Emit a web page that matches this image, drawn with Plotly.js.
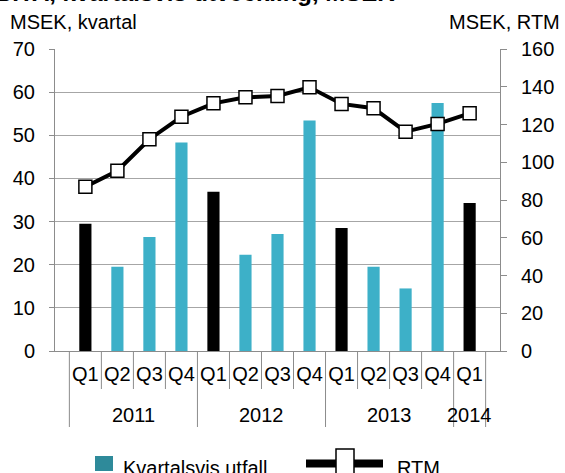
<!DOCTYPE html>
<html><head><meta charset="utf-8">
<script src="https://cdn.plot.ly/plotly-3.0.1.min.js"></script>
<style>html,body{margin:0;padding:0;background:#fff}#chart{width:565px;height:473px}</style>
</head><body><div id="chart"></div>
<script>
const years = ['2011','2011','2011','2011','2012','2012','2012','2012','2013','2013','2013','2013','2014'];
const quarters = ['Q1','Q2','Q3','Q4','Q1','Q2','Q3','Q4','Q1','Q2','Q3','Q4','Q1'];
const kvartal = [29.5,19.5,26.4,48.3,36.9,22.3,27.1,53.4,28.5,19.5,14.5,57.5,34.3];
const rtm = [87.0,95.5,112.2,124.1,131.2,134.4,135.1,139.7,130.9,128.6,116.2,120.3,125.9];
const seriesNames = ['Kvartalsvis utfall','RTM'];
const titleText = 'EBITA, kvartalsvis utveckling, MSEK';
const leftTitle = 'MSEK, kvartal';
const rightTitle = 'MSEK, RTM';

const FONT = 'Liberation Sans, Arial, sans-serif';
const FS = 20;
const TEAL = '#3db0c8';
const GRID = '#a6a6a6';
const AX = '#8c8c8c';

const cats = quarters.map((q,i)=>q+' '+years[i]);
const barColors = quarters.map(q => q==='Q1' ? '#000000' : TEAL);

// plot geometry
const L=55, R=500, T=49, B=351, W=565, H=473;
const px = x => (x-L)/(R-L);
const py = y => (B-y)/(B-T);

const shapes = [];
const annotations = [];
// category separators
for (let i=0;i<=cats.length;i++){
  const isYear = i===0 || i===cats.length || years[i]!==years[i-1];
  shapes.push({type:'line', xref:'x', yref:'paper', x0:i-0.5, x1:i-0.5,
    y0:0, y1:py(isYear?427:389), line:{color:AX,width:1}});
}
// year labels
const uniqYears = [...new Set(years)];
uniqYears.forEach(y=>{
  const idx = years.map((v,i)=>v===y?i:-1).filter(i=>i>=0);
  const c = (idx[0]+idx[idx.length-1])/2;
  annotations.push({text:y, x:c, xref:'x', y:py(415), yref:'paper', showarrow:false,
    xanchor:'center', yanchor:'middle', font:{family:FONT,size:FS,color:'#000'}});
});
// titles
annotations.push({text:'<b>'+titleText+'</b>', xref:'paper', yref:'paper', x:px(397), y:py(-7),
  xanchor:'right', yanchor:'middle', showarrow:false, font:{family:FONT,size:24,color:'#000'}});
annotations.push({text:leftTitle, xref:'paper', yref:'paper', x:px(8), y:py(22),
  xanchor:'left', yanchor:'middle', showarrow:false, font:{family:FONT,size:FS,color:'#000'}});
annotations.push({text:rightTitle, xref:'paper', yref:'paper', x:px(562), y:py(22),
  xanchor:'right', yanchor:'middle', showarrow:false, font:{family:FONT,size:FS,color:'#000'}});
// custom legend
shapes.push({type:'rect', xref:'paper', yref:'paper', x0:px(95), x1:px(113), y0:py(456), y1:py(471),
  fillcolor:'#2e8a9a', line:{width:0}});
annotations.push({text:seriesNames[0], xref:'paper', yref:'paper', x:px(121), y:py(468),
  xanchor:'left', yanchor:'middle', showarrow:false, font:{family:FONT,size:FS,color:'#000'}});
shapes.push({type:'line', xref:'paper', yref:'paper', x0:px(306), x1:px(383), y0:py(463.5), y1:py(463.5),
  line:{color:'#000',width:8}});
shapes.push({type:'rect', xref:'paper', yref:'paper', x0:px(336), x1:px(354), y0:py(449), y1:py(478),
  fillcolor:'#fff', line:{color:'#000',width:1.5}});
annotations.push({text:seriesNames[1], xref:'paper', yref:'paper', x:px(395), y:py(468),
  xanchor:'left', yanchor:'middle', showarrow:false, font:{family:FONT,size:FS,color:'#000'}});

const data = [
  {type:'bar', x:cats, y:kvartal, name:seriesNames[0], marker:{color:barColors}, yaxis:'y', hoverinfo:'y'},
  {type:'scatter', mode:'lines+markers', x:cats, y:rtm, name:seriesNames[1], yaxis:'y2',
   line:{color:'#000',width:4}, marker:{symbol:'square',size:13,color:'#fff',line:{color:'#000',width:1.5}}}
];

const layout = {
  width:W, height:H, showlegend:false,
  margin:{l:L, r:W-R, t:T, b:H-B, pad:0},
  paper_bgcolor:'#fff', plot_bgcolor:'#fff',
  font:{family:FONT, size:FS, color:'#000'},
  bargap:0.62,
  xaxis:{type:'category', categoryorder:'array', categoryarray:cats,
    tickmode:'array', tickvals:cats, ticktext:quarters, ticks:'',
    showline:true, linecolor:AX, linewidth:1, showgrid:false, zeroline:false,
    ticklabelstandoff:5, tickfont:{family:FONT,size:FS,color:'#000'}, fixedrange:true},
  yaxis:{range:[0,70], dtick:10, tick0:0, showgrid:true, gridcolor:GRID, gridwidth:1,
    showline:true, linecolor:AX, linewidth:1, ticks:'outside', ticklen:5, tickcolor:AX,
    zeroline:false, ticklabelstandoff:10, tickfont:{family:FONT,size:FS,color:'#000'}},
  yaxis2:{range:[0,160], dtick:20, tick0:0, overlaying:'y', side:'right', showgrid:false,
    showline:true, linecolor:AX, linewidth:1, ticks:'outside', ticklen:6, tickcolor:AX,
    zeroline:false, ticklabelstandoff:10, tickfont:{family:FONT,size:FS,color:'#000'}},
  shapes:shapes, annotations:annotations
};
Plotly.newPlot('chart', data, layout, {displayModeBar:false, staticPlot:true});
</script></body></html>
